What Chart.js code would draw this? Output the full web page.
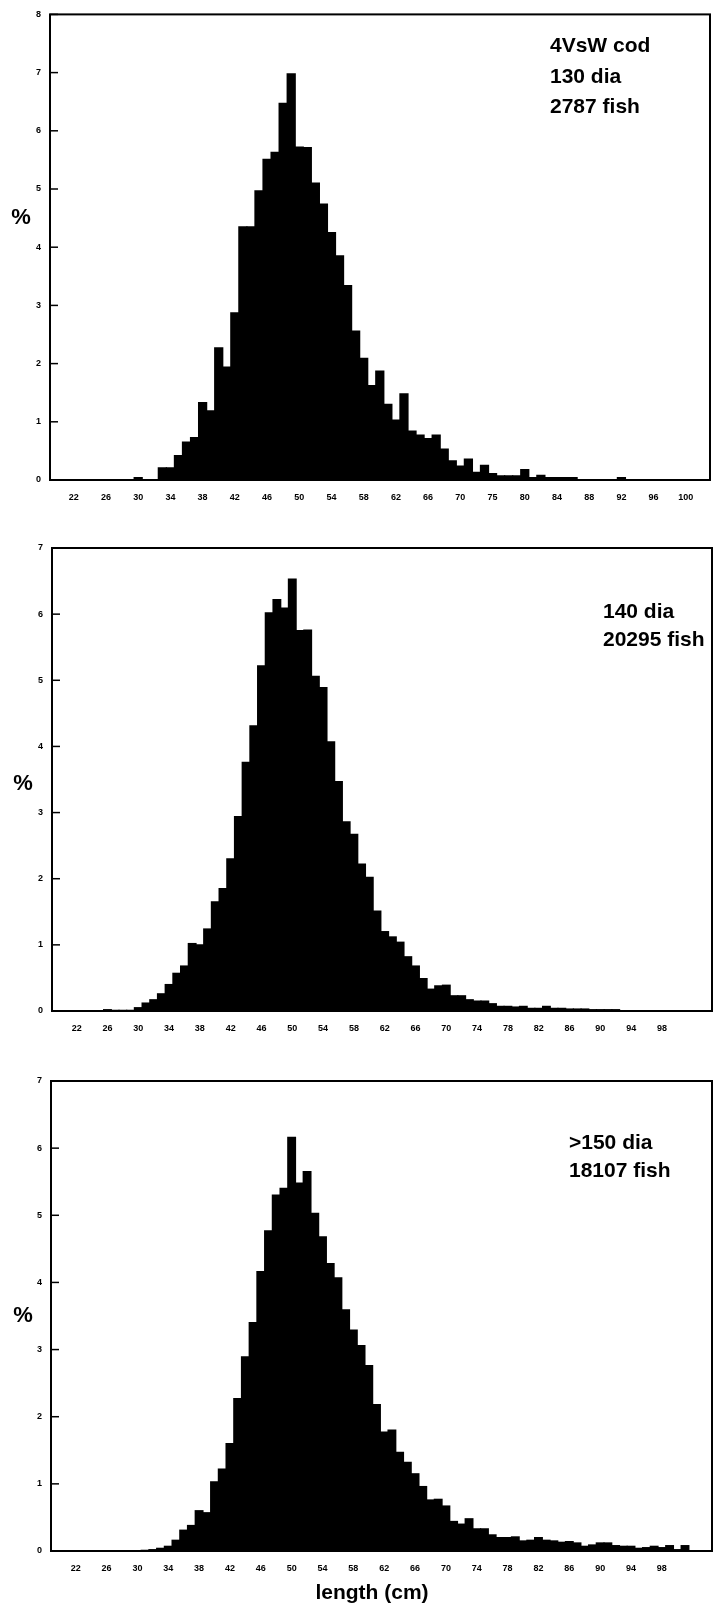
<!DOCTYPE html>
<html>
<head>
<meta charset="utf-8">
<script src="https://cdn.jsdelivr.net/npm/chart.js@4.4.1/dist/chart.umd.min.js"></script>
<style>
  body { margin: 0; background: #fff; width: 717px; height: 1615px; position: relative; overflow: hidden; }
  canvas { position: absolute; left: 0; }
</style>
</head>
<body>
<canvas id="chart130" width="717" height="520" style="top:0;width:717px;height:520px"></canvas>
<canvas id="chart140" width="717" height="520" style="top:520px;width:717px;height:520px"></canvas>
<canvas id="chart150" width="717" height="575" style="top:1040px;width:717px;height:575px"></canvas>
<script>
// length classes (cm) and percent of fish
var lengths130 = [30, 33, 34, 35, 36, 37, 38, 39, 40, 41, 42, 43, 44, 45, 46, 47, 48, 49, 50, 51,
  52, 53, 54, 55, 56, 57, 58, 59, 60, 61, 62, 63, 64, 65, 66, 67, 68, 69, 70, 71,
  72, 73, 74, 75, 76, 77, 78, 79, 80, 81, 82, 83, 84, 90];
var pct130 = [0.04, 0.21, 0.21, 0.42, 0.65, 0.73, 1.33, 1.19, 2.27, 1.94, 2.87, 4.35, 4.35, 4.97, 5.51, 5.63, 6.47, 6.98, 5.72, 5.71,
  5.1, 4.74, 4.25, 3.85, 3.34, 2.56, 2.09, 1.62, 1.87, 1.3, 1.03, 1.48, 0.84, 0.77, 0.71, 0.77, 0.53, 0.33, 0.24, 0.36,
  0.13, 0.25, 0.11, 0.07, 0.07, 0.07, 0.18, 0.04, 0.08, 0.04, 0.04, 0.04, 0.04, 0.04];

var lengths140 = [26, 27, 28, 29, 30, 31, 32, 33, 34, 35, 36, 37, 38, 39, 40, 41, 42, 43, 44, 45,
  46, 47, 48, 49, 50, 51, 52, 53, 54, 55, 56, 57, 58, 59, 60, 61, 62, 63, 64, 65,
  66, 67, 68, 69, 70, 71, 72, 73, 74, 75, 76, 77, 78, 79, 80, 81, 82, 83, 84, 85,
  86, 87, 88, 89, 90, 91, 92];
var pct140 = [0.02, 0.01, 0.01, 0.01, 0.05, 0.12, 0.17, 0.26, 0.4, 0.57, 0.68, 1.02, 1.0, 1.24, 1.65, 1.85, 2.3, 2.94, 3.76, 4.31,
  5.22, 6.02, 6.22, 6.09, 6.53, 5.75, 5.76, 5.06, 4.89, 4.07, 3.47, 2.86, 2.67, 2.22, 2.02, 1.51, 1.2, 1.12, 1.04, 0.82,
  0.68, 0.49, 0.33, 0.38, 0.39, 0.23, 0.23, 0.17, 0.15, 0.15, 0.11, 0.07, 0.07, 0.06, 0.07, 0.04, 0.04, 0.07, 0.04, 0.04,
  0.03, 0.03, 0.03, 0.02, 0.02, 0.02, 0.02];

var lengths150 = [31, 32, 33, 34, 35, 36, 37, 38, 39, 40, 41, 42, 43, 44, 45, 46, 47, 48, 49, 50,
  51, 52, 53, 54, 55, 56, 57, 58, 59, 60, 61, 62, 63, 64, 65, 66, 67, 68, 69, 70,
  71, 72, 73, 74, 75, 76, 77, 78, 79, 80, 81, 82, 83, 84, 85, 86, 87, 88, 89, 90,
  91, 92, 93, 94, 95, 96, 97, 98, 99, 100, 101];
var pct150 = [0.01, 0.02, 0.04, 0.07, 0.16, 0.31, 0.38, 0.6, 0.57, 1.03, 1.22, 1.6, 2.27, 2.89, 3.4, 4.16, 4.77, 5.3, 5.4, 6.16,
  5.48, 5.65, 5.03, 4.68, 4.28, 4.07, 3.59, 3.29, 3.06, 2.76, 2.18, 1.77, 1.8, 1.47, 1.32, 1.15, 0.96, 0.76, 0.77, 0.67,
  0.44, 0.4, 0.48, 0.33, 0.33, 0.24, 0.2, 0.2, 0.21, 0.15, 0.16, 0.2, 0.16, 0.15, 0.13, 0.14, 0.12, 0.07, 0.09, 0.12,
  0.12, 0.08, 0.07, 0.07, 0.04, 0.05, 0.07, 0.05, 0.08, 0.02, 0.08];

// tick positions on the length axis and the labels printed there
var tickPositions = [22, 26, 30, 34, 38, 42, 46, 50, 54, 58, 62, 66, 70, 74, 78, 82, 86, 90, 94, 98];
var tickLabels130 = ["22", "26", "30", "34", "38", "42", "46", "50", "54", "58", "62", "66", "70", "75", "80", "84", "88", "92", "96", "100"];
var tickLabelsOther = ["22", "26", "30", "34", "38", "42", "46", "50", "54", "58", "62", "66", "70", "74", "78", "82", "86", "90", "94", "98"];

var tickFont = { family: "'Liberation Sans', Arial, sans-serif", size: 9, weight: "bold" };
var bigFont = "bold 21px 'Liberation Sans', Arial, sans-serif";

// frame round the plot, inward y ticks and the free text
var frameAndText = {
  id: "frameAndText",
  afterDatasetsDraw: function (chart, args, opts) {
    var ctx = chart.ctx, a = chart.chartArea, y = chart.scales.y;
    ctx.save();
    ctx.strokeStyle = "#000";
    ctx.lineWidth = 2;
    ctx.strokeRect(a.left, a.top, a.right - a.left, a.bottom - a.top);
    ctx.lineWidth = 1.5;
    y.ticks.forEach(function (t) {
      var py = y.getPixelForValue(t.value);
      ctx.beginPath();
      ctx.moveTo(a.left, py);
      ctx.lineTo(a.left + 8, py);
      ctx.stroke();
    });
    ctx.fillStyle = "#000";
    ctx.textBaseline = "middle";
    (opts.texts || []).forEach(function (t) {
      ctx.font = t.font || bigFont;
      ctx.textAlign = t.align || "left";
      ctx.fillText(t.text, t.x, t.y);
    });
    ctx.restore();
  }
};

function makeHistogram(id, lengths, pct, cfg) {
  return new Chart(document.getElementById(id), {
    type: "bar",
    data: {
      datasets: [{
        data: lengths.map(function (x, i) { return { x: x, y: pct[i] }; }),
        backgroundColor: "#000",
        borderWidth: 0,
        inflateAmount: 0.6,
        barPercentage: 1,
        categoryPercentage: 1
      }]
    },
    options: {
      responsive: false,
      devicePixelRatio: 1,
      animation: false,
      layout: { padding: { top: cfg.top, right: cfg.right, left: 0, bottom: 0 } },
      plugins: {
        legend: { display: false },
        tooltip: { enabled: false },
        frameAndText: { texts: cfg.texts }
      },
      scales: {
        x: {
          type: "linear",
          min: cfg.xMin,
          max: cfg.xMax,
          offset: false,
          grid: { display: false, drawTicks: false },
          border: { display: false },
          afterBuildTicks: function (scale) {
            scale.ticks = tickPositions.map(function (v) { return { value: v }; });
          },
          afterFit: function (scale) { scale.height = cfg.xHeight; },
          ticks: {
            autoSkip: false,
            maxRotation: 0,
            padding: 12,
            color: "#000",
            font: tickFont,
            callback: function (v, i) { return cfg.labels[i]; }
          }
        },
        y: {
          min: 0,
          max: cfg.yMax,
          grid: { display: false, drawTicks: false },
          border: { display: false },
          afterFit: function (scale) { scale.width = cfg.yWidth; },
          ticks: { stepSize: 1, padding: 9, color: "#000", font: tickFont }
        }
      }
    },
    plugins: [frameAndText]
  });
}

makeHistogram("chart130", lengths130, pct130, {
  top: 8, right: 7, yWidth: 50, xHeight: 40, xMin: 19.05, xMax: 101, yMax: 8,
  labels: tickLabels130,
  texts: [
    { text: "4VsW cod", x: 550, y: 46 },
    { text: "130 dia", x: 550, y: 77 },
    { text: "2787 fish", x: 550, y: 107 },
    { text: "%", x: 21, y: 218, align: "center", font: "bold 22px 'Liberation Sans', Arial, sans-serif" }
  ]
});

makeHistogram("chart140", lengths140, pct140, {
  top: 28, right: 5, yWidth: 52, xHeight: 29, xMin: 18.8, xMax: 104.5, yMax: 7,
  labels: tickLabelsOther,
  texts: [
    { text: "140 dia", x: 603, y: 92 },
    { text: "20295 fish", x: 603, y: 120 },
    { text: "%", x: 23, y: 264, align: "center", font: "bold 22px 'Liberation Sans', Arial, sans-serif" }
  ]
});

makeHistogram("chart150", lengths150, pct150, {
  top: 41, right: 5, yWidth: 51, xHeight: 64, xMin: 18.8, xMax: 104.5, yMax: 7,
  labels: tickLabelsOther,
  texts: [
    { text: ">150 dia", x: 569, y: 103 },
    { text: "18107 fish", x: 569, y: 131 },
    { text: "%", x: 23, y: 276, align: "center", font: "bold 22px 'Liberation Sans', Arial, sans-serif" },
    { text: "length (cm)", x: 372, y: 553, align: "center" }
  ]
});
</script>
</body>
</html>
